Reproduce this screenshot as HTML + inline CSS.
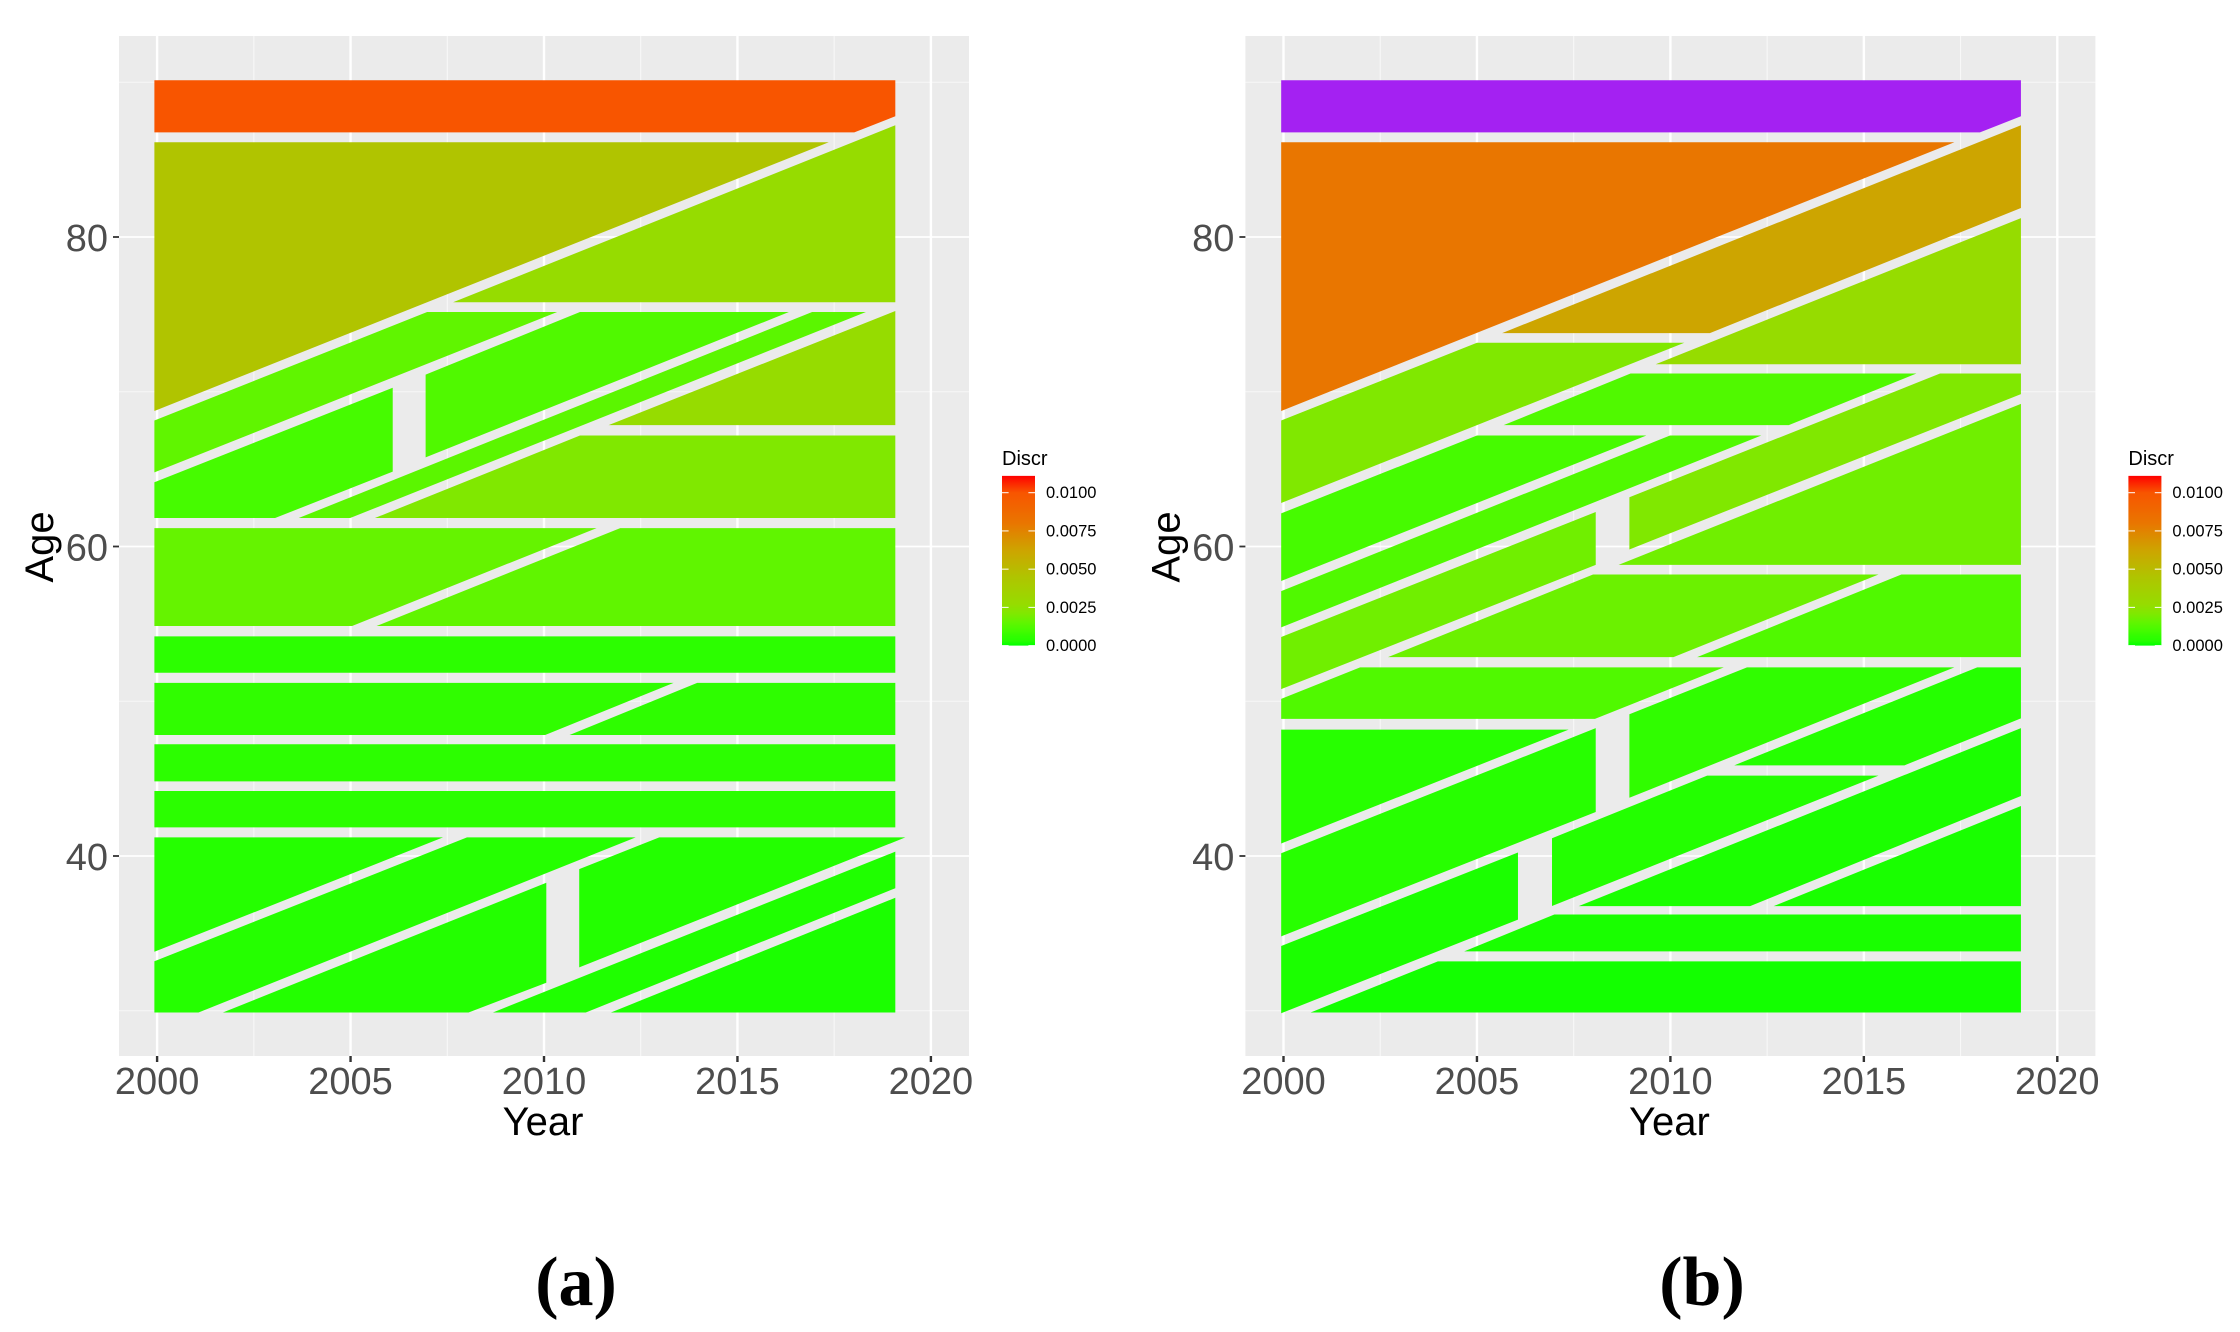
<!DOCTYPE html>
<html lang="en">
<head>
<meta charset="utf-8">
<title>Discrepancy by Year and Age</title>
<style>
html,body{margin:0;padding:0;background:#fff;width:2240px;height:1332px;overflow:hidden}
svg{display:block}
text{font-family:"Liberation Sans",sans-serif}
</style>
</head>
<body>
<svg id="figure" xmlns="http://www.w3.org/2000/svg" width="2240" height="1332" viewBox="0 0 2240 1332">
  <g id="panel-a"></g>
  <g id="panel-b" transform="translate(1126.4,0)"></g>
  <text x="576" y="1305" text-anchor="middle" font-size="70" font-weight="bold" style="font-family:'Liberation Serif',serif">(a)</text>
  <text x="1702" y="1305" text-anchor="middle" font-size="70" font-weight="bold" style="font-family:'Liberation Serif',serif">(b)</text>
</svg>
<script>
// Axis tick values
const yearTicks = [2000, 2005, 2010, 2015, 2020];
const yearMinorTicks = [2002.5, 2007.5, 2012.5, 2017.5];
const ageTicks = [40, 60, 80];
const ageMinorTicks = [30, 50, 70, 90];
const legendTicks = [0, 0.0025, 0.005, 0.0075, 0.01];
const legendLabels = ['0.0000', '0.0025', '0.0050', '0.0075', '0.0100'];

const rampValues = [0, 0.0003, 0.0006, 0.001, 0.0015, 0.0021, 0.0027, 0.0045, 0.0062, 0.008, 0.01, 0.0111];
const rampColors = ['#00ff00', '#25ff00', '#30fd00', '#46fb00', '#60f500', '#80e800', '#96dc00', '#b0c400', '#cda500', '#e97600', '#f85500', '#ff0000'];
const naColor = '#a421f2';

// Panel (a): region outlines as [year, age] vertices, and their discrepancy
const cellsA = [
  [[1999.93,90.13],[2019.08,90.13],[2019.08,87.8],[2018.02,86.76],[1999.93,86.76]],
  [[1999.93,86.12],[2017.36,86.12],[1999.93,68.76]],
  [[2019.08,87.22],[2019.08,75.78],[2007.65,75.78]],
  [[1999.93,68.14],[2006.98,75.15],[2010.34,75.15],[1999.93,64.79]],
  [[1999.93,64.15],[2006.09,70.26],[2006.09,64.84],[2003.05,61.84],[1999.93,61.84]],
  [[2006.94,71.11],[2010.93,75.15],[2016.33,75.15],[2006.94,65.76]],
  [[2016.93,75.15],[2018.32,75.15],[2004.99,61.84],[2003.66,61.84]],
  [[2019.08,75.22],[2019.08,67.84],[2011.67,67.84]],
  [[2010.93,67.17],[2019.08,67.17],[2019.08,61.84],[2005.63,61.84]],
  [[1999.93,61.19],[2011.36,61.19],[2005.04,54.86],[1999.93,54.86]],
  [[2011.97,61.19],[2019.08,61.19],[2019.08,54.86],[2005.67,54.86]],
  [[1999.93,54.19],[2019.08,54.19],[2019.08,51.84],[1999.93,51.84]],
  [[1999.93,51.19],[2013.35,51.19],[2010.03,47.82],[1999.93,47.82]],
  [[2013.96,51.19],[2019.08,51.19],[2019.08,47.82],[2010.66,47.82]],
  [[1999.93,47.22],[2019.08,47.22],[2019.08,44.82],[1999.93,44.82]],
  [[1999.93,44.2],[2019.08,44.2],[2019.08,41.85],[1999.93,41.85]],
  [[1999.93,41.2],[2007.39,41.2],[1999.93,33.81]],
  [[1999.93,33.2],[2008.01,41.2],[2012.37,41.2],[2001.07,29.89],[1999.93,29.89]],
  [[2001.7,29.89],[2010.06,38.27],[2010.06,31.81],[2008.05,29.89]],
  [[2012.98,41.2],[2019.34,41.2],[2010.91,32.8],[2010.91,39.15]],
  [[2019.08,40.28],[2019.08,37.92],[2011.08,29.89],[2008.68,29.89]],
  [[2019.08,37.3],[2019.08,29.89],[2011.73,29.89]]
];
const discrA = [0.01, 0.0045, 0.0027, 0.0015, 0.001, 0.0012, 0.0014, 0.0027, 0.0021, 0.0016, 0.0015, 0.0005, 0.0006, 0.00055, 0.0005, 0.00045, 0.0003, 0.0003, 0.00028, 0.00028, 0.00025, 0.00022];

// Panel (b): region outlines and discrepancy; null is drawn in the out-of-range colour
const cellsB = [
  [[1999.94,90.13],[2019.06,90.13],[2019.06,87.8],[2018.0,86.76],[1999.94,86.76]],
  [[1999.94,86.12],[2017.34,86.12],[1999.94,68.76]],
  [[2019.06,87.22],[2019.06,81.87],[2011.02,73.79],[2005.65,73.79]],
  [[2019.06,81.22],[2019.06,71.78],[2009.62,71.78]],
  [[1999.94,68.14],[2005.0,73.17],[2010.36,73.17],[1999.94,62.81]],
  [[2008.97,71.18],[2016.36,71.18],[2013.06,67.84],[2005.69,67.84]],
  [[2016.97,71.18],[2019.06,71.18],[2019.06,69.85],[2008.94,59.81],[2008.94,63.18]],
  [[1999.94,62.14],[2005.0,67.17],[2009.38,67.17],[1999.94,57.77]],
  [[1999.94,57.12],[2009.99,67.17],[2012.35,67.17],[1999.94,54.77]],
  [[1999.94,54.15],[2008.07,62.23],[2008.07,58.81],[1999.94,50.78]],
  [[2019.06,69.22],[2019.06,58.81],[2008.66,58.81]],
  [[2008.0,58.19],[2015.38,58.19],[2010.08,52.85],[2002.7,52.85]],
  [[2015.97,58.19],[2019.06,58.19],[2019.06,52.85],[2010.69,52.85]],
  [[1999.94,50.15],[2001.98,52.19],[2011.38,52.19],[2008.05,48.86],[1999.94,48.86]],
  [[2011.98,52.19],[2017.34,52.19],[2008.94,43.76],[2008.94,49.16]],
  [[2017.93,52.19],[2019.06,52.19],[2019.06,48.89],[2016.05,45.86],[2011.65,45.86]],
  [[1999.94,48.17],[2007.37,48.17],[1999.94,40.81]],
  [[1999.94,40.18],[2008.07,48.26],[2008.07,42.84],[1999.94,34.81]],
  [[1999.94,34.18],[2006.06,40.23],[2006.06,35.89],[1999.94,29.84]],
  [[2006.94,41.15],[2010.95,45.19],[2015.38,45.19],[2006.94,36.77]],
  [[2019.06,48.26],[2019.06,43.88],[2012.06,36.76],[2007.63,36.76]],
  [[2019.06,43.23],[2019.06,36.76],[2012.67,36.76]],
  [[2007.0,36.22],[2019.06,36.22],[2019.06,33.84],[2004.67,33.84]],
  [[2003.99,33.19],[2019.06,33.19],[2019.06,29.89],[2000.7,29.89]]
];
const discrB = [null, 0.008, 0.0062, 0.0027, 0.0021, 0.0012, 0.0021, 0.001, 0.0012, 0.0018, 0.0018, 0.0017, 0.0012, 0.0012, 0.0006, 0.0003, 0.00035, 0.00035, 0.00022, 0.00028, 0.00022, 0.0002, 0.0002, 0.00015];

const SVG_NS = 'http://www.w3.org/2000/svg';
const xScale = year => 157.1 + (year - 2000) * 38.69;
const yScale = age => 237 + (80 - age) * 15.475;
const legendScale = value => 645.6 - value * 15290;

function hexToRgb(hex) {
  return [1, 3, 5].map(i => parseInt(hex.slice(i, i + 2), 16));
}
function colorFor(value) {
  if (value === null) return naColor;
  let i = 0;
  while (i < rampValues.length - 2 && value > rampValues[i + 1]) i++;
  const t = Math.min(1, Math.max(0, (value - rampValues[i]) / (rampValues[i + 1] - rampValues[i])));
  const a = hexToRgb(rampColors[i]);
  const b = hexToRgb(rampColors[i + 1]);
  return 'rgb(' + a.map((c, k) => Math.round(c + (b[k] - c) * t)).join(',') + ')';
}
function make(tag, attrs, parent) {
  const node = document.createElementNS(SVG_NS, tag);
  for (const key in attrs) node.setAttribute(key, attrs[key]);
  parent.appendChild(node);
  return node;
}

function drawPanel(root, suffix, cells, discr) {
  const bg = make('rect', {x: 119, y: 36, width: 850, height: 1020, fill: '#ebebeb'}, root);
  
  

  yearMinorTicks.forEach(v => {
    const line = make('line', {x1: xScale(v), x2: xScale(v), y1: 36, y2: 1056, stroke: '#f8f8f8', 'stroke-width': 1.1}, root);
    
    
  });
  ageMinorTicks.forEach(v => {
    const line = make('line', {x1: 119, x2: 969, y1: yScale(v), y2: yScale(v), stroke: '#f8f8f8', 'stroke-width': 0.9}, root);
    
    
  });
  yearTicks.forEach(v => {
    const line = make('line', {x1: xScale(v), x2: xScale(v), y1: 36, y2: 1056, stroke: '#fff', 'stroke-width': 2.4}, root);
    
    
    const tick = make('line', {x1: xScale(v), x2: xScale(v), y1: 1056, y2: 1062, stroke: '#333', 'stroke-width': 2.4}, root);
    
    
    const label = make('text', {x: xScale(v), y: 1094, 'text-anchor': 'middle', 'font-size': 38, fill: '#4d4d4d'}, root);
    label.textContent = String(v);
    
    
  });
  ageTicks.forEach(v => {
    const line = make('line', {x1: 119, x2: 969, y1: yScale(v), y2: yScale(v), stroke: '#fff', 'stroke-width': 1.8}, root);
    
    
    const tick = make('line', {x1: 113, x2: 119, y1: yScale(v), y2: yScale(v), stroke: '#333', 'stroke-width': 1.8}, root);
    
    
    const label = make('text', {x: 108, y: yScale(v) + 14, 'text-anchor': 'end', 'font-size': 38, fill: '#4d4d4d'}, root);
    label.textContent = String(v);
    
    
  });

  cells.forEach((cell, i) => {
    const points = cell.map(p => xScale(p[0]).toFixed(2) + ',' + yScale(p[1]).toFixed(2)).join(' ');
    const poly = make('polygon', {points: points, fill: colorFor(discr[i])}, root);
    
    
  });

  const xTitle = make('text', {x: 543, y: 1135, 'text-anchor': 'middle', 'font-size': 40, fill: '#000'}, root);
  xTitle.textContent = 'Year';
  
  

  const yTitle = make('text', {x: 0, y: 0, transform: 'translate(53,547) rotate(-90)', 'text-anchor': 'middle', 'font-size': 40, fill: '#000'}, root);
  yTitle.textContent = 'Age';
  
  

  const legendTitle = make('text', {x: 1002, y: 465, 'font-size': 20, fill: '#000'}, root);
  legendTitle.textContent = 'Discr';
  
  

  const gradient = make('linearGradient', {id: 'ramp-' + suffix, x1: 0, y1: 1, x2: 0, y2: 0}, root);
  rampValues.forEach((v, i) => {
    make('stop', {offset: v / rampValues[rampValues.length - 1], 'stop-color': rampColors[i]}, gradient);
  });
  const bar = make('rect', {x: 1002, y: legendScale(rampValues[rampValues.length - 1]), width: 33, height: legendScale(0) - legendScale(rampValues[rampValues.length - 1]), fill: 'url(#ramp-' + suffix + ')'}, root);
  
  

  legendTicks.forEach((v, i) => {
    const left = make('line', {x1: 1002, x2: 1008.6, y1: legendScale(v), y2: legendScale(v), stroke: '#fff', 'stroke-width': 1}, root);
    
    
    const right = make('line', {x1: 1028.4, x2: 1035, y1: legendScale(v), y2: legendScale(v), stroke: '#fff', 'stroke-width': 1}, root);
    
    
    const label = make('text', {x: 1046, y: legendScale(v) + 5.5, 'font-size': 16.5, fill: '#000'}, root);
    label.textContent = legendLabels[i];
    
    
  });
}

drawPanel(document.getElementById('panel-a'), 'a', cellsA, discrA);
drawPanel(document.getElementById('panel-b'), 'b', cellsB, discrB);
</script>
</body>
</html>
